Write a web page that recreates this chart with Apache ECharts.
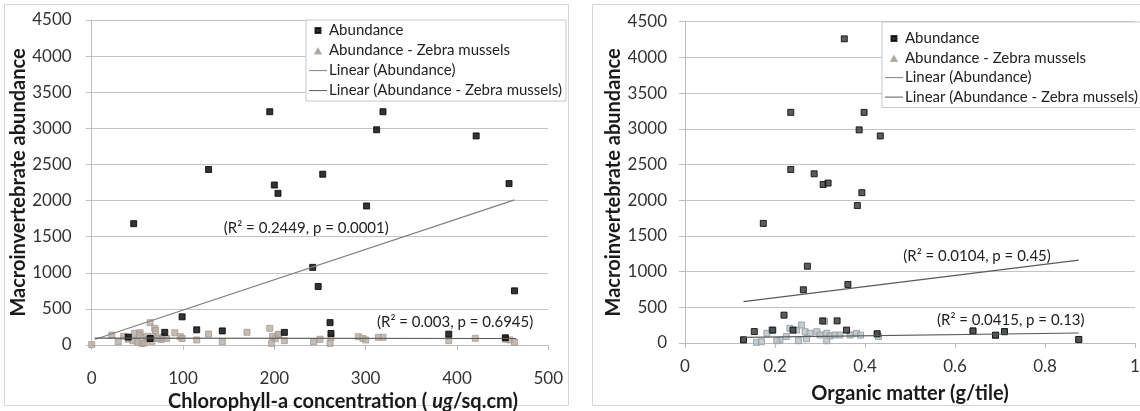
<!DOCTYPE html>
<html><head><meta charset="utf-8">
<script src="https://cdn.jsdelivr.net/npm/echarts@6/dist/echarts.min.js"></script>
<style>html,body{margin:0;padding:0;background:#fff}#c{width:1140px;height:411px}</style>
</head><body><div id="c"></div>
<script>
// ---------- data ----------
const chlAbundance = [[46,1680],[128,2430],[195,3230],[200,2215],[204,2100],[253,2365],[301,1925],[312,2980],[319,3230],[421,2895],[457,2235],[242,1075],[248,810],[463,750],[99,390],[115,210],[143,195],[80,175],[211,175],[261,310],[262,160],[391,150],[453,100],[40,110],[64,90]];
const chlZebra = [[0,5],[22,138],[29,46],[47,162],[53,170],[50,40],[55,20],[64,309],[69,231],[67,120],[73,90],[76,75],[91,170],[97,115],[115,70],[128,152],[143,46],[170,176],[195,231],[197,23],[204,138],[201,90],[211,60],[243,46],[250,79],[261,23],[262,100],[292,115],[297,92],[300,70],[314,107],[319,107],[391,60],[420,93],[453,80],[458,70],[463,40],[40,80],[45,60],[52,140],[58,30],[60,120],[62,80],[66,50],[70,200],[72,100],[78,110],[82,90],[35,120],[99,90],[198,120],[205,150]];
const chlTrendAbundance = [[4,80],[463,2010]];
const chlTrendZebra = [[3,95],[465,90]];
const omAbundance = [[0.354,4260],[0.235,3230],[0.398,3230],[0.387,2985],[0.434,2900],[0.235,2430],[0.287,2370],[0.307,2220],[0.318,2240],[0.393,2105],[0.383,1925],[0.174,1675],[0.272,1075],[0.263,745],[0.362,820],[0.22,390],[0.338,310],[0.306,310],[0.154,160],[0.195,180],[0.359,180],[0.24,180],[0.427,130],[0.64,170],[0.69,110],[0.71,160],[0.875,50],[0.13,45]];
const omZebra = [[0.13,42],[0.159,10],[0.17,18],[0.182,136],[0.193,182],[0.211,42],[0.233,206],[0.248,182],[0.259,252],[0.267,158],[0.278,136],[0.293,158],[0.3,112],[0.315,136],[0.322,98],[0.333,112],[0.344,112],[0.252,32],[0.315,32],[0.204,32],[0.367,112],[0.381,136],[0.39,110],[0.43,90],[0.427,120],[0.64,165],[0.69,105],[0.71,155],[0.875,45],[0.31,300],[0.225,90],[0.27,60]];
const omTrendAbundance = [[0.13,580],[0.875,1160]];
const omTrendZebra = [[0.13,80],[0.875,140]];
const seriesNames = ['Abundance','Abundance - Zebra mussels','Linear (Abundance)','Linear (Abundance - Zebra mussels)'];
const annotations = [
  {grid:0, coord:[235,1620], text:'(R² = 0.2449, p = 0.0001)'},
  {grid:0, coord:[398,318], text:'(R² = 0.003, p = 0.6945)'},
  {grid:1, coord:[0.649,1218], text:'(R² = 0.0104, p = 0.45)'},
  {grid:1, coord:[0.724,322], text:'(R² = 0.0415, p = 0.13)'}
];
const chlTicks = {min:0, max:500, interval:100};
const omTicks = {min:0, max:1, interval:0.2};
const yTicks = {min:0, max:4500, interval:500};

// ---------- chart ----------
const FONT = 'Lato';
const chart = echarts.init(document.getElementById('c'), null, {renderer:'canvas'});
const sq = 'path://M0,0M18,10M6.5,2.5h5v5h-5z';
const tri = 'path://M0,0M18,10M6.5,8L9,3.5L11.5,8z';
const ln = 'path://M0,0M18,10M0,4.6h18v1h-18z';

function xAxis(gi, ticks, name, gap, margin, extra){
  return Object.assign({
    gridIndex:gi, type:'value', min:ticks.min, max:ticks.max, interval:ticks.interval,
    name:name, nameLocation:'middle', nameGap:gap,
    nameTextStyle:{fontFamily:FONT, fontWeight:'bold', fontSize:20, color:'#1a1a1a'},
    axisLine:{show:true, lineStyle:{color:'#bdbdbd', width:1}},
    axisTick:{show:true, length:5, lineStyle:{color:'#bdbdbd'}},
    axisLabel:{fontFamily:FONT, fontSize:17, color:'#333', margin:margin, formatter:v=>String(v)},
    splitLine:{show:false}
  }, extra||{});
}
function yAxis(gi, gap, margin){
  return {
    gridIndex:gi, type:'value', min:yTicks.min, max:yTicks.max, interval:yTicks.interval,
    name:'Macroinvertebrate abundance', nameLocation:'middle', nameGap:gap,
    nameTextStyle:{fontFamily:FONT, fontWeight:'bold', fontSize:20, color:'#1a1a1a'},
    axisLine:{show:true, lineStyle:{color:'#bdbdbd', width:1}},
    axisTick:{show:true, length:6, lineStyle:{color:'#bdbdbd'}},
    axisLabel:{fontFamily:FONT, fontSize:17, color:'#333', margin:margin, formatter:v=>String(v)},
    splitLine:{show:true, lineStyle:{color:'#c4c4c4', width:1}}
  };
}
function legend(left, top, pad, gap){
  return {
    left:left, top:top, orient:'vertical', align:'left',
    backgroundColor:'#fff', borderColor:'#c8c8c8', borderWidth:1,
    padding:pad, itemGap:gap, itemWidth:18, itemHeight:10,
    textStyle:{fontFamily:FONT, fontSize:15, color:'#222', padding:[0,0,0,-3]},
    data:[
      {name:seriesNames[0], icon:sq},
      {name:seriesNames[1], icon:tri},
      {name:seriesNames[2], icon:ln},
      {name:seriesNames[3], icon:ln}
    ]
  };
}
function scatter(name, gi, data, color, border, size){
  return {name:name, type:'scatter', xAxisIndex:gi, yAxisIndex:gi, data:data, symbol:'rect', symbolSize:size,
    itemStyle:{color:color, borderColor:border, borderWidth:1}, z:3, emphasis:{disabled:true}};
}
function trend(name, gi, data, color, ann){
  const s = {name:name, type:'line', xAxisIndex:gi, yAxisIndex:gi, data:data, symbol:'none',
    lineStyle:{color:color, width:1.2}, itemStyle:{color:color}, z:4, silent:true};
  if (ann.length) s.markPoint = {symbol:'circle', symbolSize:0, silent:true, data:ann.map(a=>({coord:a.coord, value:a.text,
      label:{show:true, position:'inside', formatter:a.text, fontFamily:FONT, fontSize:15, color:'#222'}}))};
  return s;
}

chart.setOption({
  animation:false,
  backgroundColor:'#fff',
  graphic:[
    {type:'rect', shape:{x:4.5, y:4.5, width:564, height:401}, style:{fill:'none', stroke:'#d6d6d6', lineWidth:1}, z:-1},
    {type:'rect', shape:{x:592.5, y:4.5, width:560, height:401}, style:{fill:'none', stroke:'#d6d6d6', lineWidth:1}, z:-1}
  ],
  grid:[
    {left:91.7, top:20, width:456.6, height:325, containLabel:false, outerBoundsMode:'none'},
    {left:685, top:21.7, width:450, height:321.3, containLabel:false, outerBoundsMode:'none'}
  ],
  xAxis:[
    xAxis(0, chlTicks, '{b|Chlorophyll-a concentration ( }{i|ug}{b|/sq.cm)}', 45, 25, {
      nameTextStyle:{padding:[0,0,0,46], rich:{
        b:{fontFamily:FONT, fontWeight:'bold', fontSize:20, color:'#1a1a1a'},
        i:{fontFamily:FONT, fontWeight:'bold', fontStyle:'italic', fontSize:20, color:'#1a1a1a'}}}}),
    xAxis(1, omTicks, 'Organic matter (g/tile)', 41, 15)
  ],
  yAxis:[yAxis(0, 62, 20), yAxis(1, 60, 18)],
  legend:[legend(306, 20, [3,4,3,2], 5), legend(882, 22, [9,4,3,2], 4.5)],
  series:[
    scatter(seriesNames[1], 0, chlZebra, '#b7aca3', '#a59a92', 6),
    scatter(seriesNames[0], 0, chlAbundance, '#000', '#000', 6),
    trend(seriesNames[2], 0, chlTrendAbundance, '#808080', annotations.filter(a=>a.grid===0 && a.coord[1]>1000)),
    trend(seriesNames[3], 0, chlTrendZebra, '#5a5a5a', annotations.filter(a=>a.grid===0 && a.coord[1]<1000)),
    scatter(seriesNames[1], 1, omZebra, '#b9c2c6', '#8c979c', 6),
    scatter(seriesNames[0], 1, omAbundance, '#333', '#000', 6),
    trend(seriesNames[2], 1, omTrendAbundance, '#5a5a5a', annotations.filter(a=>a.grid===1 && a.coord[1]>1000)),
    trend(seriesNames[3], 1, omTrendZebra, '#5a5a5a', annotations.filter(a=>a.grid===1 && a.coord[1]<1000))
  ]
});
</script></body></html>
